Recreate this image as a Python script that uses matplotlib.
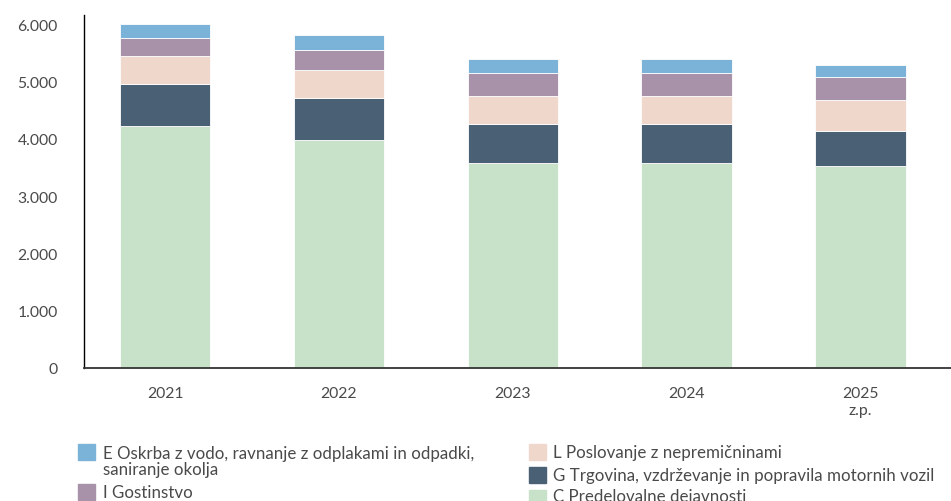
import matplotlib.pyplot as plt
from matplotlib.patches import Rectangle
import numpy as np

# data (thousand-separated values)
years = ['2021', '2022', '2023', '2024', '2025\nz.p.']
c_predelovalne = [4220, 3975, 3570, 3570, 3525]
g_trgovina = [730, 730, 685, 685, 610]
l_poslovanje = [490, 490, 490, 490, 540]
i_gostinstvo = [320, 360, 410, 410, 395]
e_oskrba = [245, 250, 245, 245, 210]

series = [
    ('C Predelovalne dejavnosti', c_predelovalne, '#c8e2c9'),
    ('G Trgovina, vzdrževanje in popravila motornih vozil', g_trgovina, '#4a6075'),
    ('L Poslovanje z nepremičninami', l_poslovanje, '#f0d7cb'),
    ('I Gostinstvo', i_gostinstvo, '#a792a9'),
    ('E Oskrba z vodo, ravnanje z odplakami in odpadki,\nsaniranje okolja', e_oskrba, '#7bb3d8'),
]

plt.rcParams['font.family'] = ['Lato', 'DejaVu Sans']
txt_color = '#4a4a4a'

fig = plt.figure(figsize=(9.51, 5.02), dpi=100)
ax = fig.add_axes([84 / 951, 133 / 502, 867 / 951, 353 / 502])

x = np.arange(len(years))
bottom = np.zeros(len(years))
for name, vals, col in series:
    ax.bar(x, vals, width=0.52, bottom=bottom, color=col, edgecolor='white', linewidth=0.6)
    bottom += np.array(vals)

ax.set_xlim(-0.466, 4.52)
ax.set_ylim(0, 6160)
ax.set_yticks(range(0, 6001, 1000))
ax.set_yticklabels(['0', '1.000', '2.000', '3.000', '4.000', '5.000', '6.000'])
ax.set_xticks(x)
ax.set_xticklabels(years, linespacing=1.25)
ax.tick_params(axis='both', length=0, labelsize=11.3, labelcolor=txt_color)
ax.tick_params(axis='y', pad=19)
ax.tick_params(axis='x', pad=13)

ax.spines['top'].set_visible(False)
ax.spines['right'].set_visible(False)
ax.spines['left'].set_color('black')
ax.spines['left'].set_linewidth(1.0)
ax.spines['bottom'].set_color('#333333')
ax.spines['bottom'].set_linewidth(1.3)

# legend drawn by hand, two columns
W, H = 951, 502
legend_items = [
    (series[4], 78, 445, 103, 462),
    (series[3], 78, 485, 103, 493),
    (series[2], 529, 445, 553, 453),
    (series[1], 529, 468, 553, 476),
    (series[0], 529, 491, 553, 497),
]
for (name, vals, col), sx, sy, tx, ty in legend_items:
    fig.patches.append(Rectangle((sx / W, 1 - (sy + 16) / H), 17 / W, 16 / H,
                                 transform=fig.transFigure, color=col))
    fig.text(tx / W, 1 - ty / H, name, fontsize=12.2, color=txt_color,
             va='center', ha='left', linespacing=1.05)

fig.savefig('out.png', dpi=100)
